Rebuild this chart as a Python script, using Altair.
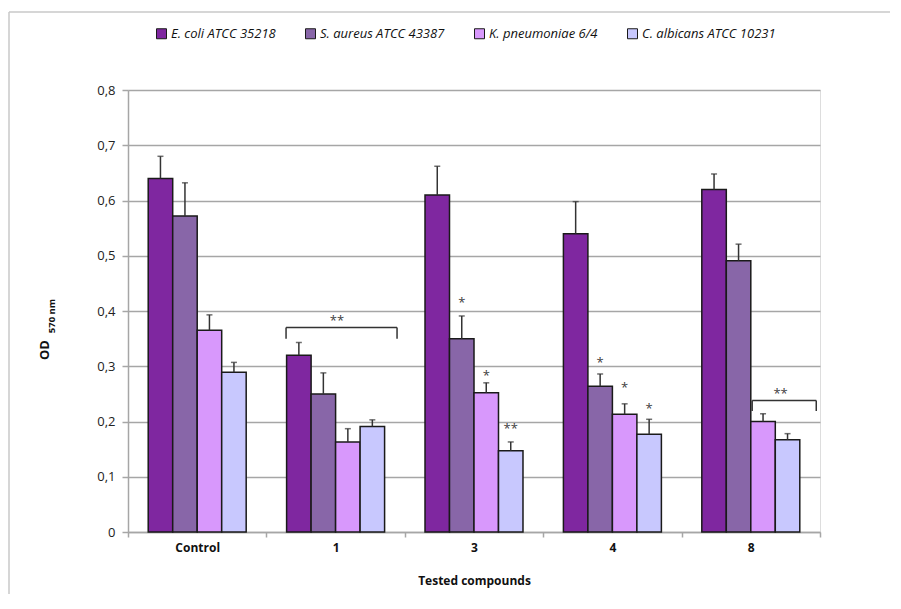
import altair as alt
import pandas as pd

# ---------------- data ----------------
compounds = ["Control", "1", "3", "4", "8"]
series = ["E. coli ATCC 35218", "S. aureus ATCC 43387", "K. pneumoniae 6/4", "C. albicans ATCC 10231"]
colors = ["#7F27A0", "#8866A8", "#D898FC", "#C8C8FE"]

ecoli = [0.640, 0.320, 0.610, 0.540, 0.620]
ecoli_err = [0.040, 0.023, 0.052, 0.058, 0.028]
saureus = [0.572, 0.250, 0.350, 0.264, 0.491]
saureus_err = [0.060, 0.038, 0.041, 0.022, 0.030]
kpneu = [0.365, 0.163, 0.252, 0.213, 0.200]
kpneu_err = [0.028, 0.024, 0.018, 0.019, 0.014]
calb = [0.289, 0.191, 0.147, 0.177, 0.167]
calb_err = [0.018, 0.012, 0.016, 0.027, 0.011]

# significance marks above single bars: compound, series index, label, y
star_compound = ["3", "3", "3", "4", "4", "4"]
star_series = [1, 2, 3, 1, 2, 3]
star_label = ["*", "*", "**", "*", "*", "*"]
star_y = [0.421, 0.290, 0.194, 0.314, 0.268, 0.230]

# brackets (x in category units: group i spans [i, i+1])
br_left = [1.142, 4.51]
br_right = [1.944, 4.973]
br_top = [0.370, 0.238]
br_bottom = [0.350, 0.219]
br_label_x = [1.51, 4.715]
br_label_y = [0.390, 0.257]
br_label = ["**", "**"]

y_ticks = [0, 0.1, 0.2, 0.3, 0.4, 0.5, 0.6, 0.7, 0.8]

# ---------------- tables ----------------
vals = [ecoli, saureus, kpneu, calb]
errs = [ecoli_err, saureus_err, kpneu_err, calb_err]
rows = []
for si, s in enumerate(series):
    for ci, c in enumerate(compounds):
        rows.append({"compound": c, "series": s, "value": vals[si][ci],
                     "err": errs[si][ci], "top": vals[si][ci] + errs[si][ci]})
df = pd.DataFrame(rows)

stars = pd.DataFrame({"compound": star_compound,
                      "series": [series[i] for i in star_series],
                      "label": star_label, "y": star_y})

brackets = pd.DataFrame({"l": br_left, "r": br_right, "t": br_top, "b": br_bottom})
br_text = pd.DataFrame({"x": br_label_x, "y": br_label_y, "label": br_label})

# ---------------- encodings ----------------
GRID = "#A6A6A6"
x_enc = alt.X("compound:N", sort=compounds,
              scale=alt.Scale(paddingInner=0, paddingOuter=0),
              axis=alt.Axis(title="Tested compounds", labelAngle=0, tickBand="extent",
                            domainColor=GRID, domainWidth=1.5, tickColor=GRID, tickWidth=1.5,
                            tickSize=5, labelFontWeight="bold", labelFontSize=12,
                            labelColor="#111111", labelPadding=5,
                            titleFontWeight="bold", titleFontSize=12, titleColor="#111111",
                            titlePadding=22, labelFont="Open Sans", titleFont="Open Sans"))
xo_enc = alt.XOffset("series:N", sort=series,
                     scale=alt.Scale(paddingInner=0, paddingOuter=0.825))
y_scale = alt.Scale(domain=[0, 0.8], nice=False)
y_axis = alt.Axis(title=None, values=y_ticks, grid=True, gridColor=GRID, gridWidth=1.5,
                  domainColor=GRID, domainWidth=1.5, tickColor=GRID, tickWidth=1.5, tickSize=6,
                  labelPadding=7, labelFontSize=13, labelColor="#222222", labelFont="Open Sans",
                  labelExpr="datum.value == 0 ? '0' : replace(format(datum.value, '.1f'), '.', ',')")

base = alt.Chart(df)
bars = base.mark_bar(stroke="#1A1A1A", strokeWidth=1.5).encode(
    x=x_enc, xOffset=xo_enc,
    y=alt.Y("value:Q", scale=y_scale, axis=y_axis),
    color=alt.Color("series:N", sort=series,
                    scale=alt.Scale(domain=series, range=colors),
                    legend=alt.Legend(title=None, orient="none", direction="horizontal",
                                      legendX=27, legendY=-63, columns=4, padding=0,
                                      symbolType="square", symbolSize=100,
                                      symbolStrokeColor="#1A1A1A", symbolStrokeWidth=1,
                                      symbolOpacity=1,
                                      labelFontStyle="italic", labelFont="Open Sans",
                                      labelFontSize=13, labelColor="#111111",
                                      labelOffset=3, columnPadding=27)),
)
err_rule = base.mark_rule(color="#333333", strokeWidth=1.5).encode(
    x=x_enc, xOffset=xo_enc, y=alt.Y("value:Q", scale=y_scale), y2="top:Q")
err_cap = base.mark_tick(color="#333333", thickness=1.5, size=6, orient="horizontal").encode(
    x=x_enc, xOffset=xo_enc, y=alt.Y("top:Q", scale=y_scale))
star_marks = alt.Chart(stars).mark_text(fontSize=13, color="#404040", baseline="middle",
                                        dy=4, font="Open Sans").encode(
    x=x_enc, xOffset=xo_enc, y=alt.Y("y:Q", scale=y_scale), text="label:N")

band_layer = alt.layer(bars, err_rule, err_cap, star_marks)

xq = alt.Scale(domain=[0, 5], nice=False, zero=False)
br_h = alt.Chart(brackets).mark_rule(color="#333333", strokeWidth=1.5).encode(
    x=alt.X("l:Q", scale=xq, axis=None), x2="r:Q", y=alt.Y("t:Q", scale=y_scale))
br_l = alt.Chart(brackets).mark_rule(color="#333333", strokeWidth=1.5).encode(
    x=alt.X("l:Q", scale=xq, axis=None), y=alt.Y("t:Q", scale=y_scale), y2="b:Q")
br_r = alt.Chart(brackets).mark_rule(color="#333333", strokeWidth=1.5).encode(
    x=alt.X("r:Q", scale=xq, axis=None), y=alt.Y("t:Q", scale=y_scale), y2="b:Q")
br_t = alt.Chart(br_text).mark_text(fontSize=13, color="#404040", baseline="middle",
                                    dy=4, font="Open Sans").encode(
    x=alt.X("x:Q", scale=xq, axis=None), y=alt.Y("y:Q", scale=y_scale), text="label:N")
anno_layer = alt.layer(br_h, br_l, br_r, br_t)

one = pd.DataFrame({"a": [0]})
od_title = alt.Chart(one).mark_text(text="OD", angle=270, fontSize=13, fontWeight="bold",
                                    color="#111111", font="Open Sans").encode(
    x=alt.value(-83), y=alt.value(260))
od_sub = alt.Chart(one).mark_text(text="570 nm", angle=270, fontSize=9.5, fontWeight="bold",
                                  color="#111111", font="Open Sans").encode(
    x=alt.value(-76), y=alt.value(226))
frame_top = alt.Chart(one).mark_rule(color="#C8C8C8", strokeWidth=1.5).encode(
    x=alt.value(-119), x2=alt.value(762), y=alt.value(-78))
frame_left = alt.Chart(one).mark_rule(color="#C8C8C8", strokeWidth=1.5).encode(
    x=alt.value(-119), y=alt.value(-78), y2=alt.value(520))

chart = alt.layer(band_layer, anno_layer, od_title, od_sub, frame_top, frame_left).resolve_scale(
    x="independent"
).properties(
    width=692, height=442,
    autosize=alt.AutoSizeParams(type="none"),
    padding={"left": 120, "top": 82, "right": 71, "bottom": 62},
).configure_view(stroke=None).configure(font="Open Sans")

chart.save("out.html", embed_options={"renderer": "svg", "actions": False})
